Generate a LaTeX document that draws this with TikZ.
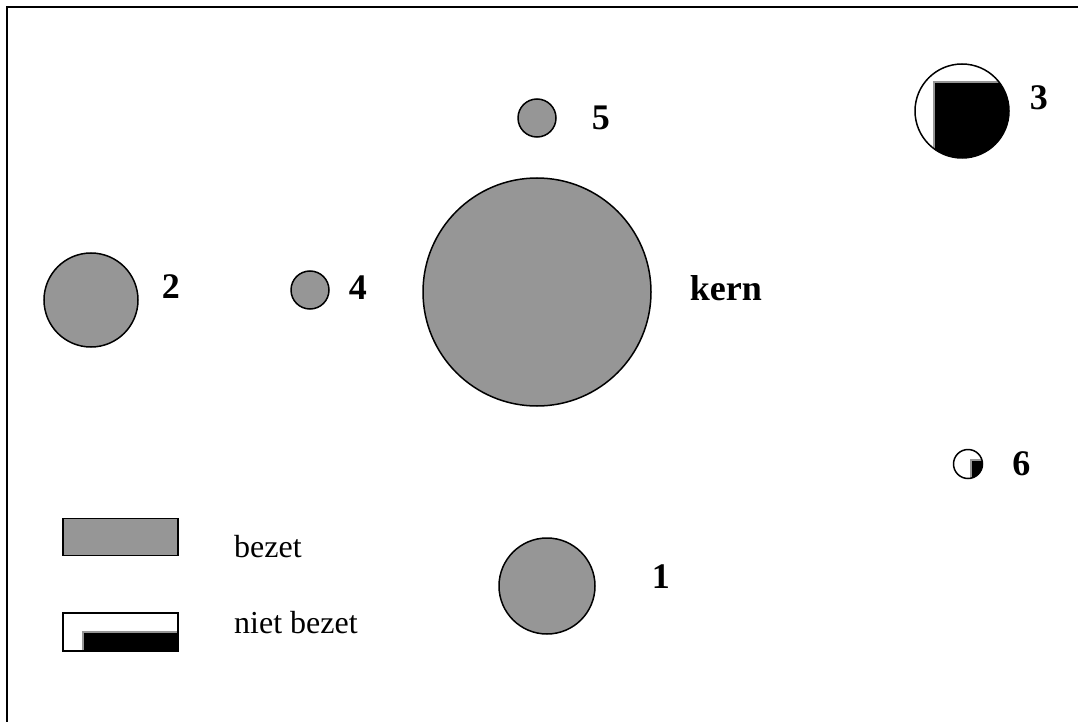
\documentclass[tikz,border=0pt]{standalone}
\usepackage{fontspec}
\setmainfont{Liberation Serif}
\usetikzlibrary{positioning}
\definecolor{bezetgray}{RGB}{150,150,150}

\begin{document}
\begin{tikzpicture}[x=1pt, y=-1pt,
    bezet/.style={draw=black, fill=bezetgray, line width=1.5pt, inner sep=0pt},
    vrij/.style 2 args={draw=black, fill=white, line width=1.5pt, inner sep=0pt,
        path picture={
            \fill[bezetgray] ([xshift=#1-2pt, yshift=#2+2pt]path picture bounding box.center) rectangle (path picture bounding box.south east);
            \fill[black] ([xshift=#1, yshift=#2]path picture bounding box.center) rectangle (path picture bounding box.south east);
        }},
    nummer/.style={font=\bfseries\fontsize{36}{42}\selectfont, inner sep=0pt},
    legtext/.style={font=\fontsize{32}{38}\selectfont, inner sep=0pt, anchor=base west}
    ]
    \useasboundingbox (0,0) rectangle (1078,722);
    \draw[line width=2pt] (7,730) -- (7,7) -- (1085,7);

    % bezette banen
    \foreach \name/\x/\y/\d in {kern/537/292/228, c5/537/118/38, c2/91/300/94, c4/310/290/38, c1/547/586/96} {
        \node[bezet, circle, minimum size=\d pt] (\name) at (\x,\y) {};
    }
    % niet bezette banen
    \node[circle, vrij={-27pt}{28pt}, minimum size=94pt] (c3) at (962,111) {};
    \node[circle, vrij={4pt}{3pt}, minimum size=29pt] (c6) at (968,464) {};

    % nummers
    \node[nummer, right=35pt of c5] (n5) {5};
    \node[nummer, right=19pt of c4, yshift=2pt] (n4) {4};
    \node[nummer, right=23pt of c2, yshift=13pt] (n2) {2};
    \node[nummer, right=38pt of kern, yshift=4pt] (nkern) {kern};
    \node[nummer, right=20pt of c3, yshift=13pt] (n3) {3};
    \node[nummer, right=29pt of c6] (n6) {6};
    \node[nummer, right=56pt of c1, yshift=9pt] (n1) {1};

    % legenda
    \node[bezet, minimum width=115pt, minimum height=37pt] (legbezet) at (120.5,537) {};
    \node[vrij={-36.5pt}{-1pt}, minimum width=115pt, minimum height=38pt] (legvrij) at (120.5,632) {};
    \node[legtext] (tbezet) at (234,557) {bezet};
    \node[legtext] (tvrij) at (234,633) {niet bezet};
\end{tikzpicture}
\end{document}
